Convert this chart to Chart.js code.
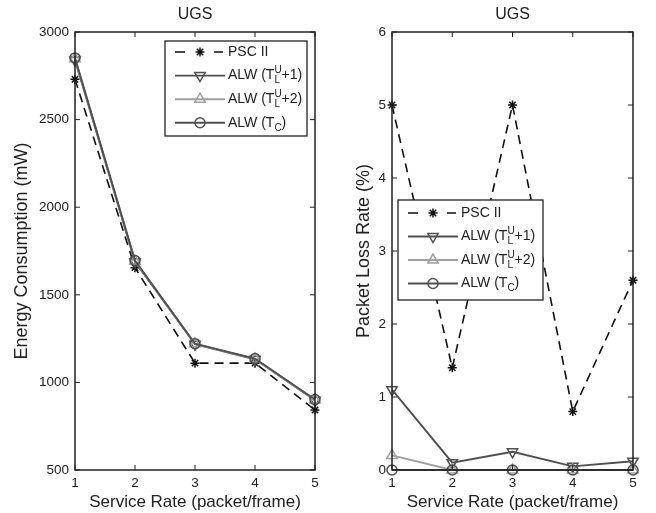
<!DOCTYPE html>
<html>
<head>
<meta charset="utf-8">
<script src="https://cdn.jsdelivr.net/npm/chart.js@4"></script>
<style>
  body { margin: 0; background: #fff; }
  canvas { position: absolute; top: 0; }
  #energy { left: 0; }
  #loss { left: 330px; }
</style>
</head>
<body>
<canvas id="energy" width="330" height="513"></canvas>
<canvas id="loss" width="326" height="513"></canvas>
<script>
// service rate (packet/frame)
var rates = ['1', '2', '3', '4', '5'];

// energy consumption (mW)
var energyPsc   = [2730, 1655, 1110, 1110, 842];
var energyAlw1  = [2840, 1688, 1218, 1132, 898];
var energyAlw2  = [2848, 1692, 1220, 1134, 900];
var energyAlwTc = [2852, 1696, 1221, 1136, 902];

// packet loss rate (%)
var lossPsc   = [5, 1.4, 5, 0.8, 2.6];
var lossAlw1  = [1.1, 0.1, 0.25, 0.05, 0.12];
var lossAlw2  = [0.2, 0, 0, 0, 0];
var lossAlwTc = [0, 0, 0, 0, 0];

var seriesNames = [
  {main: 'PSC II'},
  {main: 'ALW (T', sup: 'U', sub: 'L', tail: '+1)'},
  {main: 'ALW (T', sup: 'U', sub: 'L', tail: '+2)'},
  {main: 'ALW (T', sub: 'C', tail: ')'}
];

var FONT = '"Liberation Sans", Arial, sans-serif';
var TXT = '#222';

var styles = [
  {color: '#111', dash: [9, 6], width: 1.6, point: 'star', radius: 4.5, rot: 0},
  {color: '#505050', dash: [], width: 1.9, point: 'triangle', radius: 6, rot: 180},
  {color: '#a0a0a0', dash: [], width: 1.9, point: 'triangle', radius: 6, rot: 0},
  {color: '#505050', dash: [], width: 1.9, point: 'circle', radius: 5, rot: 0}
];

function makeSets(lists) {
  return lists.map(function(d, i) {
    var s = styles[i];
    return {
      label: seriesNames[i].main,
      data: d,
      borderColor: s.color,
      borderWidth: s.width,
      borderDash: s.dash,
      pointStyle: s.point,
      pointRadius: s.radius,
      pointRotation: s.rot,
      pointBorderColor: s.color,
      pointBackgroundColor: 'rgba(0,0,0,0)',
      pointBorderWidth: 1.5,
      fill: false,
      tension: 0,
      clip: false,
      order: 4 - i
    };
  });
}

function drawMarker(ctx, s, x, y) {
  ctx.save();
  ctx.strokeStyle = s.color;
  ctx.lineWidth = 1.5;
  ctx.setLineDash([]);
  ctx.beginPath();
  var r = s.radius;
  if (s.point === 'circle') {
    ctx.arc(x, y, r, 0, Math.PI * 2);
  } else if (s.point === 'triangle') {
    var a = s.rot * Math.PI / 180;
    for (var k = 0; k < 3; k++) {
      var t = a + k * 2 * Math.PI / 3;
      var px = x + Math.sin(t) * r, py = y - Math.cos(t) * r;
      if (k === 0) ctx.moveTo(px, py); else ctx.lineTo(px, py);
    }
    ctx.closePath();
  } else {
    for (var j = 0; j < 4; j++) {
      var b = j * Math.PI / 4;
      ctx.moveTo(x - Math.cos(b) * r, y - Math.sin(b) * r);
      ctx.lineTo(x + Math.cos(b) * r, y + Math.sin(b) * r);
    }
  }
  ctx.stroke();
  ctx.restore();
}

function drawName(ctx, n, x, y) {
  ctx.fillStyle = TXT;
  ctx.textBaseline = 'middle';
  ctx.textAlign = 'left';
  ctx.font = '14px ' + FONT;
  ctx.fillText(n.main, x, y);
  x += ctx.measureText(n.main).width;
  if (n.sup || n.sub) {
    ctx.font = '10px ' + FONT;
    var w = 0;
    if (n.sup) { ctx.fillText(n.sup, x, y - 5); w = ctx.measureText(n.sup).width; }
    if (n.sub) { ctx.fillText(n.sub, x, y + 5); w = Math.max(w, ctx.measureText(n.sub).width); }
    x += w;
  }
  if (n.tail) {
    ctx.font = '14px ' + FONT;
    ctx.fillText(n.tail, x, y);
  }
}

var framePlugin = {
  id: 'frame',
  afterDraw: function(chart, args, opts) {
    var ctx = chart.ctx, a = chart.chartArea;
    ctx.save();
    // title
    ctx.fillStyle = TXT;
    ctx.font = '16px ' + FONT;
    ctx.textAlign = 'center';
    ctx.textBaseline = 'middle';
    ctx.fillText(opts.title, (a.left + a.right) / 2, 15);
    // box and inner ticks
    ctx.strokeStyle = TXT;
    ctx.lineWidth = 1.5;
    ctx.strokeRect(a.left, a.top, a.right - a.left, a.bottom - a.top);
    ctx.lineWidth = 1;
    ctx.beginPath();
    var ys = chart.scales.y, xs = chart.scales.x;
    ys.ticks.forEach(function(t) {
      var py = ys.getPixelForValue(t.value);
      ctx.moveTo(a.left, py); ctx.lineTo(a.left + 5, py);
      ctx.moveTo(a.right, py); ctx.lineTo(a.right - 5, py);
    });
    xs.ticks.forEach(function(t, i) {
      var px = xs.getPixelForTick(i);
      ctx.moveTo(px, a.bottom); ctx.lineTo(px, a.bottom - 5);
      ctx.moveTo(px, a.top); ctx.lineTo(px, a.top + 5);
    });
    ctx.stroke();
    // legend
    var b = opts.box;
    ctx.fillStyle = '#fff';
    ctx.fillRect(b[0], b[1], b[2], b[3]);
    ctx.lineWidth = 1.3;
    ctx.strokeStyle = TXT;
    ctx.strokeRect(b[0], b[1], b[2], b[3]);
    seriesNames.forEach(function(n, i) {
      var s = styles[i];
      var ry = b[1] + opts.first + i * opts.step;
      ctx.save();
      ctx.strokeStyle = s.color;
      ctx.lineWidth = s.width;
      ctx.beginPath();
      if (s.dash.length) {
        ctx.moveTo(b[0] + 10, ry); ctx.lineTo(b[0] + 20, ry);
        ctx.moveTo(b[0] + 49, ry); ctx.lineTo(b[0] + 58, ry);
      } else {
        ctx.moveTo(b[0] + 10, ry); ctx.lineTo(b[0] + 60, ry);
      }
      ctx.stroke();
      ctx.restore();
      drawMarker(ctx, s, b[0] + 35, ry);
      drawName(ctx, n, b[0] + 63, ry);
    });
    ctx.restore();
  }
};

function plain(v) { return String(v); }

function makeChart(id, lists, yMin, yMax, yStep, yTitle, yWidth, yTitlePad, padRight, legend) {
  return new Chart(document.getElementById(id), {
    type: 'line',
    data: { labels: rates, datasets: makeSets(lists) },
    options: {
      responsive: false,
      animation: false,
      events: [],
      layout: { padding: { top: 32, right: padRight, left: 0, bottom: 0 } },
      plugins: {
        legend: { display: false },
        tooltip: { enabled: false },
        frame: legend
      },
      scales: {
        x: {
          offset: false,
          grid: { display: false, drawTicks: false },
          border: { display: false },
          ticks: { color: TXT, font: { family: FONT, size: 13.5 }, padding: 5, maxRotation: 0 },
          title: { display: true, text: 'Service Rate (packet/frame)', color: TXT,
                   font: { family: FONT, size: 17 }, padding: { top: 0, bottom: 0 } },
          afterFit: function(s) { s.height = 43; }
        },
        y: {
          min: yMin, max: yMax,
          grid: { display: false, drawTicks: false },
          border: { display: false },
          ticks: { stepSize: yStep, color: TXT, font: { family: FONT, size: 13.5 }, padding: 6,
                   callback: plain },
          title: { display: true, text: yTitle, color: TXT,
                   font: { family: FONT, size: 18 }, padding: { top: yTitlePad, bottom: 0 } },
          afterFit: function(s) { s.width = yWidth; }
        }
      }
    },
    plugins: [framePlugin]
  });
}

makeChart('energy', [energyPsc, energyAlw1, energyAlw2, energyAlwTc],
  500, 3000, 500, 'Energy Consumption (mW)', 75, 11, 15,
  { title: 'UGS', box: [165, 41, 142, 95], first: 11, step: 23.6 });

makeChart('loss', [lossPsc, lossAlw1, lossAlw2, lossAlwTc],
  0, 6, 1, 'Packet Loss Rate (%)', 62, 23, 23,
  { title: 'UGS', box: [68, 200, 145, 100], first: 13, step: 23.5 });
</script>
</body>
</html>
